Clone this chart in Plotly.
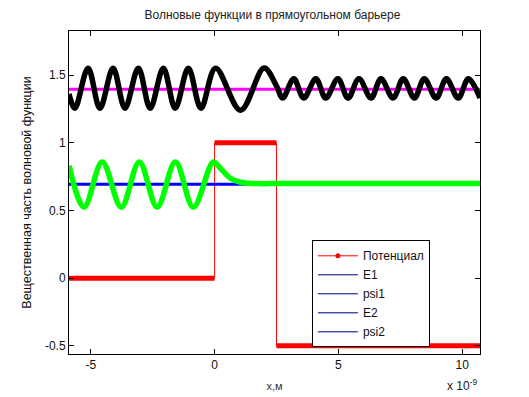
import plotly.graph_objects as go

# ---- data (x in units of 1e-9 m) ----
# potential profile
pot_x = [-5.88, 0.0, 0.0, 2.5, 2.5, 10.72]
pot_y = [0.0, 0.0, 1.0, 1.0, -0.5, -0.5]

# energy levels
E1 = 0.694
E2 = 1.395
x_range = [-5.88, 10.72]

# psi1 (green): extrema and decay points
psi1_x = [-5.88, -5.27, -4.54, -3.77, -3.04, -2.32, -1.58, -0.86, -0.05,
          0.24, 0.64, 1.05, 1.58, 3.0, 10.72]
psi1_y = [0.83, 0.524, 0.858, 0.524, 0.858, 0.524, 0.858, 0.524, 0.858,
          0.81, 0.738, 0.708, 0.699, 0.699, 0.699]

# psi2 (black): extrema
psi2_x = [-5.88, -5.64, -5.11, -4.63, -4.10, -3.62, -3.08, -2.60, -2.07,
          -1.59, -1.06, -0.55, 0.04, 1.05, 2.0, 2.5, 2.75, 3.2, 3.60, 4.09,
          4.49, 4.98, 5.39, 5.83, 6.32, 6.72, 7.21, 7.62, 8.07, 8.47, 8.95,
          9.36, 9.84, 10.25, 10.72]
psi2_y = [1.36, 1.255, 1.55, 1.255, 1.55, 1.255, 1.55, 1.255, 1.55,
          1.255, 1.55, 1.255, 1.55, 1.24, 1.552, 1.42, 1.33, 1.472, 1.33, 1.472,
          1.33, 1.472, 1.33, 1.472, 1.33, 1.472, 1.33, 1.472, 1.33, 1.472, 1.33,
          1.472, 1.33, 1.472, 1.33]

legend_names = ["Потенциал", "E1", "psi1", "E2", "psi2"]

x_ticks = [-5, 0, 5, 10]
y_ticks = [-0.5, 0, 0.5, 1, 1.5]
y_tick_text = ["-0.5", "0", "0.5", "1", "1.5"]

FONT = "Liberation Sans, Arial, sans-serif"

fig = go.Figure()

# potential: thin connecting line
fig.add_trace(go.Scatter(x=pot_x, y=pot_y, mode="lines",
                         line=dict(color="#ff0000", width=1),
                         showlegend=False, hoverinfo="skip"))
# potential: thick horizontal plateaus (dense markers in original)
plat_x, plat_y = [], []
for i in range(0, len(pot_x), 2):
    plat_x += [pot_x[i], pot_x[i + 1], None]
    plat_y += [pot_y[i], pot_y[i + 1], None]
fig.add_trace(go.Scatter(x=plat_x, y=plat_y, mode="lines",
                         line=dict(color="#ff0000", width=5),
                         showlegend=False, hoverinfo="skip"))

# E1 level
fig.add_trace(go.Scatter(x=x_range, y=[E1, E1], mode="lines",
                         line=dict(color="#0000ff", width=3),
                         showlegend=False))
# psi1
fig.add_trace(go.Scatter(x=psi1_x, y=psi1_y, mode="lines",
                         line=dict(color="#00ff00", width=5.5, shape="spline", smoothing=1.0),
                         showlegend=False))
# E2 level
fig.add_trace(go.Scatter(x=x_range, y=[E2, E2], mode="lines",
                         line=dict(color="#ff00ff", width=3),
                         showlegend=False))
# psi2
fig.add_trace(go.Scatter(x=psi2_x, y=psi2_y, mode="lines",
                         line=dict(color="#000000", width=5.5, shape="spline", smoothing=1.0),
                         showlegend=False))

# legend proxies (MATLAB shows these entries in dark blue)
fig.add_trace(go.Scatter(x=[None], y=[None], mode="lines+markers", name=legend_names[0],
                         line=dict(color="#ff0000", width=1),
                         marker=dict(color="#ff0000", size=5)))
for nm in legend_names[1:]:
    fig.add_trace(go.Scatter(x=[None], y=[None], mode="lines", name=nm,
                             line=dict(color="#000080", width=1)))

axis_common = dict(showline=True, linecolor="black", linewidth=1, mirror="ticks",
                   ticks="inside", ticklen=5, tickcolor="black", showgrid=False,
                   zeroline=False, automargin=False,
                   tickfont=dict(family=FONT, size=12, color="#111"))

fig.update_layout(
    width=529, height=397,
    margin=dict(l=69, r=49, t=31, b=43, autoexpand=False),
    paper_bgcolor="white", plot_bgcolor="white",
    title=dict(text="Волновые функции в прямоугольном барьере", x=0.515, xanchor="center",
               y=0.962, yanchor="middle", font=dict(family=FONT, size=12, color="#222")),
    xaxis=dict(range=x_range, tickvals=x_ticks, ticktext=[str(v) for v in x_ticks],
               title=dict(text="x,м", font=dict(family=FONT, size=11, color="#333"), standoff=10),
               **axis_common),
    yaxis=dict(range=[-0.56, 1.825], tickvals=y_ticks, ticktext=y_tick_text,
               title=dict(text="Вещественная часть волновой функции",
                          font=dict(family=FONT, size=12.5, color="#111"), standoff=10),
               **axis_common),
    legend=dict(x=0.591, y=0.352, xanchor="left", yanchor="top",
                bgcolor="white", bordercolor="black", borderwidth=1,
                font=dict(family=FONT, size=12, color="#111"),
                tracegroupgap=0, itemwidth=40),
    annotations=[dict(text="x 10<sup>-9</sup>", xref="paper", yref="paper",
                      x=0.955, y=-0.095, xanchor="center", yanchor="middle", showarrow=False,
                      font=dict(family=FONT, size=12, color="#222"))],
)

fig.write_html("out.html",
               config={"displayModeBar": False},
               post_script="document.body.style.margin='0';document.body.style.overflow='hidden';")
